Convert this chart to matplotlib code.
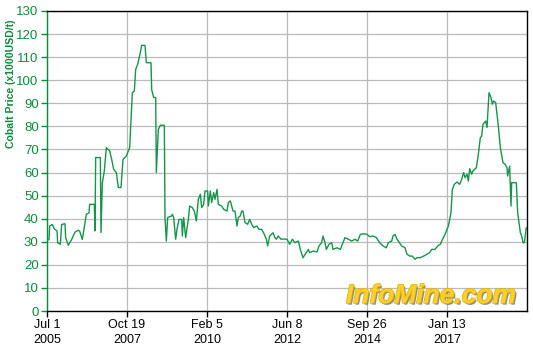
import numpy as np
import matplotlib
matplotlib.use('Agg')
import matplotlib.pyplot as plt
import matplotlib.patheffects as pe

# weeks since Jul 1 2005, cobalt price (x1000 USD/t)
weeks = [0, 3, 4, 8, 11, 15, 16, 20, 22, 27, 28, 32, 37, 42, 47, 49, 53, 59, 63, 64,
         71, 72, 73, 80, 81, 83, 86, 89, 94, 97, 100, 104, 107, 111, 114, 119, 124, 128, 131, 133,
         136, 140, 142, 147, 149, 156, 157, 160, 163, 164, 167, 170, 176, 177, 179, 181, 187, 188, 190, 193,
         195, 198, 202, 203, 205, 208, 212, 214, 218, 221, 224, 227, 230, 232, 235, 237, 241, 242, 245, 247,
         250, 252, 255, 257, 262, 265, 270, 272, 275, 279, 282, 285, 287, 290, 292, 294, 297, 301, 304, 307,
         310, 315, 318, 322, 326, 329, 331, 334, 339, 342, 344, 347, 351, 354, 360, 364, 368, 372, 377, 380,
         384, 389, 392, 394, 400, 405, 408, 412, 414, 417, 419, 423, 427, 429, 435, 440, 444, 447, 452, 457,
         462, 466, 470, 475, 480, 484, 489, 494, 499, 504, 509, 512, 517, 519, 522, 525, 527, 532, 537, 540,
         544, 548, 552, 555, 560, 565, 570, 574, 577, 582, 586, 590, 592, 597, 602, 606, 608, 611, 615, 619,
         622, 625, 627, 630, 632, 634, 637, 639, 644, 647, 650, 652, 654, 658, 660, 663, 666, 668, 670, 673,
         677, 680, 684, 687, 690, 691, 694, 696, 697, 704, 706, 710, 712, 714, 716, 719, 720]
price = [30.5, 31, 36.8, 37.5, 35.6, 34.7, 29.6, 28.9, 37.5, 37.8, 31.8, 28.5, 31, 34.2, 35, 34.6, 31, 41.9, 42.5, 46.2,
         46.2, 34.7, 66.5, 66.5, 34, 55.6, 60.7, 70.8, 69.4, 65.7, 61.4, 60, 53.5, 53.5, 65.7, 67.2, 70.8, 94.6, 95.3, 104.7,
         106.9, 112, 115.1, 115.1, 107.6, 107.6, 96, 92.5, 92.5, 60, 78.7, 80.5, 80.5, 40.5, 30.3, 40.5, 41.2, 41.9, 40.5, 31.1,
         35.4, 39.7, 39.7, 32.5, 40.5, 31.8, 39.7, 45.5, 44.8, 43.3, 39, 48.4, 50.6, 44.8, 46.2, 52, 52, 45.5, 52, 47,
         51.3, 48.4, 52.7, 46.2, 45.5, 44.1, 43.3, 47, 47.7, 43.3, 43.3, 36.8, 40.5, 41.2, 43.3, 43.3, 38.3, 37.6, 39.7, 37.6,
         36.1, 36.8, 35.4, 35.4, 33.2, 31.1, 28.2, 32.5, 33.9, 31.8, 31.1, 32.5, 31.1, 31.2, 31.1, 28.9, 31.1, 29.6, 30.3, 26.7,
         23.1, 25.3, 26.7, 25.3, 26, 25.6, 28.2, 29.6, 32.5, 29.6, 26.7, 28.9, 29.6, 26.7, 27.4, 26.7, 29.6, 31.8, 31.1, 30.3,
         31.1, 30.3, 33.2, 33.5, 33.2, 32.2, 32.5, 31.8, 29.6, 28.2, 27.4, 29.6, 30.3, 32.5, 33.2, 31.1, 30.3, 28.2, 27.4, 24.6,
         23.8, 23.8, 22.4, 23.1, 23.1, 23.8, 24.6, 25.3, 26.7, 26.7, 28.2, 28.9, 30.3, 33.2, 36.8, 42.6, 52.7, 54.9, 55.9, 54.9,
         57.1, 60, 57.8, 59.3, 56.3, 61.7, 59.3, 60.7, 62.1, 67.9, 75.1, 75.8, 80.9, 82.3, 79.5, 94.6, 92.5, 89.6, 91, 90.3,
         80.2, 70.8, 64.3, 63.6, 62.1, 58.5, 62.8, 45.5, 55.6, 55.6, 42.6, 34, 32.5, 29.6, 29.6, 36.1, 35.4]

tick_weeks = [0, 120, 240, 360, 480, 600]
tick_labels = ['Jul 1\n2005', 'Oct 19\n2007', 'Feb 5\n2010', 'Jun 8\n2012', 'Sep 26\n2014', 'Jan 13\n2017']

green = '#0b8a3c'
line_green = '#14954a'

plt.rcParams['font.family'] = ['Liberation Sans', 'DejaVu Sans']

fig = plt.figure(figsize=(5.33, 3.52), dpi=100)
ax = fig.add_axes([47 / 533, 41 / 352, 480 / 533, 300 / 352])

ax.plot(weeks, price, color=line_green, linewidth=1.0, zorder=3)

ax.set_xlim(0, 720)
ax.set_ylim(0, 130)
ax.set_yticks(np.arange(0, 131, 10))
ax.set_xticks(tick_weeks)
ax.set_xticklabels(tick_labels, fontsize=9, color='black', linespacing=1.25)
ax.tick_params(axis='y', colors=green, labelsize=9.5, length=4, width=1, pad=2)
ax.tick_params(axis='x', colors='black', length=4, width=1, pad=2)
for lbl in ax.get_xticklabels():
    lbl.set_color('black')

ax.grid(True, color='#bbbbbb', linewidth=0.9)
ax.set_axisbelow(True)

ax.spines['left'].set_color(green)
for s in ['top', 'right', 'bottom']:
    ax.spines[s].set_color('black')
for s in ax.spines.values():
    s.set_linewidth(1.0)

# label sits in the upper half, like the original
ax.set_ylabel('Cobalt Price (x1000USD/t)', color=green, fontsize=7.6, fontweight='bold')
ax.yaxis.set_label_coords(-0.064, 0.758)

ax.text(0.8, 0.05, 'InfoMine.com', transform=ax.transAxes, ha='center', va='center',
        fontsize=19, fontweight='bold', style='italic', color='#fcd02c', zorder=4,
        path_effects=[pe.withSimplePatchShadow(offset=(1.2, -1.2), shadow_rgbFace='#808080', alpha=0.9),
                      pe.Stroke(linewidth=1.0, foreground='#e0b000'), pe.Normal()])

fig.savefig('out.png', dpi=100)
